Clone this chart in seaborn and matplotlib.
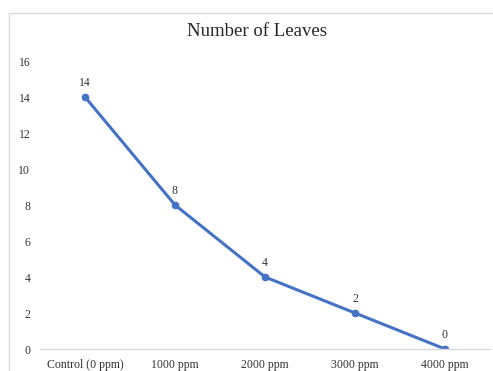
import matplotlib
matplotlib.use("Agg")
import matplotlib.pyplot as plt
import seaborn as sns
import pandas as pd
from matplotlib.patches import Rectangle

categories = ["Control (0 ppm)", "1000 ppm", "2000 ppm", "3000 ppm", "4000 ppm"]
leaves = [14, 8, 4, 2, 0]
y_ticks = [0, 2, 4, 6, 8, 10, 12, 14, 16]

sns.set_theme(style="white")
plt.rcParams["font.family"] = ["Liberation Serif", "DejaVu Serif"]

df = pd.DataFrame({"treatment": categories, "leaves": leaves})

W, H = 493, 371
fig = plt.figure(figsize=(W / 100, H / 100), dpi=100)
fig.patch.set_facecolor("white")

# chart-area frame
fig.patches.append(Rectangle((9 / W, -0.1), 1.2, (H - 13) / H + 0.1,
                             transform=fig.transFigure, fill=False,
                             edgecolor="#d9d9d9", linewidth=1.0))

ax = fig.add_axes([40 / W, 22 / H, 450 / W, 288 / H])
sns.lineplot(data=df, x="treatment", y="leaves", ax=ax, sort=False,
             color="#4472C4", linewidth=2.2, marker="o", markersize=5.5,
             markeredgewidth=0)

ax.set_xlim(-0.5, len(categories) - 0.5)
ax.set_ylim(0, 16)
ax.set_yticks(y_ticks)
ax.set_yticklabels([str(t) for t in y_ticks])
ax.tick_params(axis="both", length=0, labelsize=8.5, colors="#333333")
ax.tick_params(axis="y", pad=7)
ax.tick_params(axis="x", pad=7)
ax.set_xlabel("")
ax.set_ylabel("")
for s in ["top", "right", "left"]:
    ax.spines[s].set_visible(False)
ax.spines["bottom"].set_color("#d9d9d9")
ax.spines["bottom"].set_linewidth(1.0)
ax.set_facecolor("none")

for i, v in enumerate(leaves):
    ax.annotate(str(v), (i, v), xytext=(0, 6), textcoords="offset points",
                ha="center", va="bottom", fontsize=8.5, color="#333333")

fig.text(257 / W, 1 - 32 / H, "Number of Leaves", ha="center", va="center",
         fontsize=13.5, color="#262626")

fig.savefig("out.png", dpi=100)
